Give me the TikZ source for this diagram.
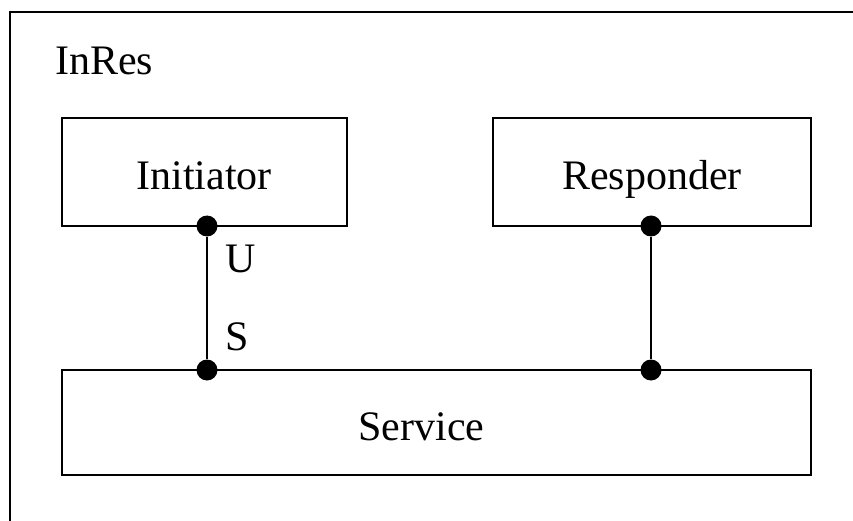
\documentclass[tikz,border=0pt]{standalone}
\usepackage{fontspec}
\setmainfont{Liberation Serif}
\begin{document}
\begin{tikzpicture}[x=1pt,y=-1pt,
  box/.style={draw,line width=2.4pt,rectangle,inner sep=0pt},
  lbl/.style={anchor=base west,inner sep=0pt,font=\fontsize{42}{48}\selectfont},
  ctr/.style={anchor=base,inner sep=0pt,font=\fontsize{42}{48}\selectfont},
  port/.style={circle,fill=black,inner sep=0pt,minimum size=21pt},
  wire/.style={line width=2pt}]
\useasboundingbox (0,0) rectangle (853,521);
% enclosing frame, cut by the page on the right and at the bottom
\draw[line width=2pt] (10,530) -- (10,12) -- (860,12);
\node[lbl] (title) at (55,75) {InRes};
% components
\node[box,minimum width=285pt,minimum height=108pt] (init) at (204.5,172) {};
\node[box,minimum width=318pt,minimum height=108pt] (resp) at (652,172) {};
\node[box,minimum width=749pt,minimum height=105pt] (serv) at (436.5,422.5) {};
\node[ctr] (initT) at (204,190) {Initiator};
\node[ctr] (respT) at (652,190) {Responder};
\node[ctr] (servT) at (421.5,440) {Service};
% access points
\node[port] (pu) at (207,226) {};
\node[port] (ps) at (207,370) {};
\node[port] (pr) at (651,226) {};
\node[port] (pq) at (651,370) {};
\draw[wire] (pu) -- (ps);
\draw[wire] (pr) -- (pq);
\node[lbl] (u) at (225,272) {U};
\node[lbl] (s) at (225,350) {S};
\end{tikzpicture}
\end{document}
